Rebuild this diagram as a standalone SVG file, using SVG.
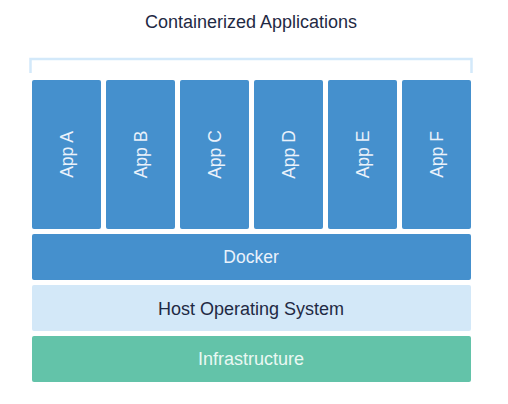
<svg xmlns="http://www.w3.org/2000/svg" width="508" height="404" viewBox="0 0 508 404">
<style>
  text { font-family: "Liberation Sans", Arial, sans-serif; font-size: 17.5px; text-anchor: middle; }
  .app rect, .docker rect { fill: #4590CD; }
  .app text, .docker text { fill: #EAF2FB; }
  .host rect { fill: #D3E8F8; }
  .host text, .title { fill: #1F2A44; }
  .title { font-size: 18px; }
  .host text { font-size: 18px; }
  .infra rect { fill: #63C3A9; }
  .infra text { fill: #EAF8F3; font-size: 18px; }
  .bracket { fill: none; stroke: #D3E9FA; stroke-width: 2.5; }
</style>
<rect width="508" height="404" fill="#FFFFFF"/>
<text class="title" x="251" y="28">Containerized Applications</text>
<path class="bracket" d="M30.5,73 V59 H471.5 V73"/>
<g id="appA" class="app"><rect x="32" y="80" width="69" height="149" rx="2"/><text transform="translate(66.5,154.5) rotate(-90)" y="6.3">App A</text></g>
<g id="appB" class="app"><rect x="106" y="80" width="69" height="149" rx="2"/><text transform="translate(140.5,154.5) rotate(-90)" y="6.3">App B</text></g>
<g id="appC" class="app"><rect x="180" y="80" width="69" height="149" rx="2"/><text transform="translate(214.5,154.5) rotate(-90)" y="6.3">App C</text></g>
<g id="appD" class="app"><rect x="254" y="80" width="69" height="149" rx="2"/><text transform="translate(288.5,154.5) rotate(-90)" y="6.3">App D</text></g>
<g id="appE" class="app"><rect x="328" y="80" width="69" height="149" rx="2"/><text transform="translate(362.5,154.5) rotate(-90)" y="6.3">App E</text></g>
<g id="appF" class="app"><rect x="402" y="80" width="69" height="149" rx="2"/><text transform="translate(436.5,154.5) rotate(-90)" y="6.3">App F</text></g>
<g id="docker" class="docker"><rect x="32" y="234" width="439" height="46" rx="2"/><text x="251" y="263.3">Docker</text></g>
<g id="host" class="host"><rect x="32" y="285" width="439" height="46" rx="2"/><text x="251" y="314.5">Host Operating System</text></g>
<g id="infra" class="infra"><rect x="32" y="336" width="439" height="46" rx="2"/><text x="251" y="365.3">Infrastructure</text></g>
<g id="connectors"></g>
</svg>
